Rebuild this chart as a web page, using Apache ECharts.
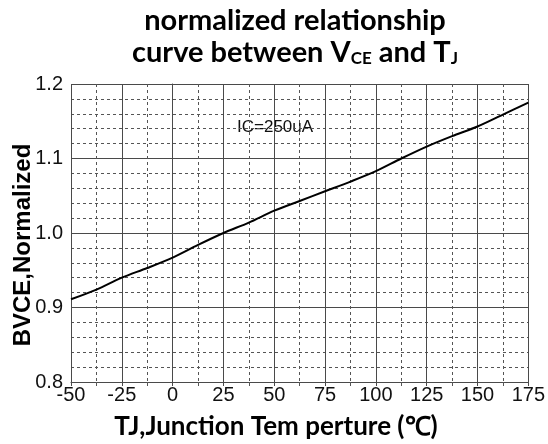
<!DOCTYPE html>
<html>
<head>
<meta charset="utf-8">
<script src="https://cdn.jsdelivr.net/npm/echarts@6/dist/echarts.min.js"></script>
<style>
html,body{margin:0;padding:0;background:#fff;}
#chart{width:548px;height:444px;}
</style>
</head>
<body>
<div id="chart"></div>
<script>
const temps = [-50, -37.5, -25, -12.5, 0, 12.5, 25, 37.5, 50, 62.5, 75, 87.5, 100, 112.5, 125, 137.5, 150, 162.5, 175];
const bvceNorm = [0.911, 0.924, 0.940, 0.953, 0.967, 0.984, 1.000, 1.014, 1.030, 1.043, 1.056, 1.069, 1.083, 1.100, 1.116, 1.130, 1.143, 1.159, 1.175];
const xTicks = [-50, -25, 0, 25, 50, 75, 100, 125, 150, 175];
const yTicks = [0.8, 0.9, 1.0, 1.1, 1.2];
const annotation = 'IC=250uA';
const titleLine1 = 'normalized relationship';
const xName = 'TJ,Junction Tem perture (\u2103)';
const yName = 'BVCE,Normalized';

const chart = echarts.init(document.getElementById('chart'), null, {renderer: 'canvas'});
const gridSolid = {color: '#4a4a4a', width: 1};
const gridDash = {color: '#555', width: 1, type: [3, 3]};

chart.setOption({
  animation: false,
  backgroundColor: '#fff',
  grid: {left: 71, right: 11, top: 84, bottom: 62},
  xAxis: {
    type: 'value', min: xTicks[0], max: xTicks[xTicks.length - 1], interval: 25,
    axisLine: {show: true, lineStyle: gridSolid},
    axisTick: {show: true, length: 4, lineStyle: gridSolid},
    minorTick: {show: true, splitNumber: 2, length: 4, lineStyle: {color: '#555'}},
    axisLabel: {color: '#111', fontSize: 20, fontFamily: 'Liberation Sans', margin: 3},
    splitLine: {show: true, lineStyle: gridSolid},
    minorSplitLine: {show: true, lineStyle: gridDash}
  },
  yAxis: {
    type: 'value', min: yTicks[0], max: yTicks[yTicks.length - 1], interval: 0.1,
    axisLine: {show: true, lineStyle: gridSolid},
    axisTick: {show: false},
    axisLabel: {color: '#111', fontSize: 20, fontFamily: 'Liberation Sans', margin: 8,
      formatter: v => v.toFixed(1)},
    splitLine: {show: true, lineStyle: gridSolid},
    minorSplitLine: {show: true, lineStyle: gridDash},
    minorTick: {show: false, splitNumber: 5}
  },
  series: [{
    type: 'line',
    data: temps.map((t, i) => [t, bvceNorm[i]]),
    showSymbol: false,
    smooth: 0.3,
    lineStyle: {color: '#000', width: 2}
  }],
  graphic: [
    {
      type: 'text', x: 295, y: 3,
      style: {
        text: '{a|' + titleLine1 + '}\n{a|curve between V}{s|CE}{a| and T}{s|J}',
        textAlign: 'center',
        rich: {
          a: {fontFamily: 'Lato', fontWeight: 'bold', fontSize: 29, lineHeight: 32, fill: '#000', verticalAlign: 'bottom'},
          s: {fontFamily: 'Lato', fontWeight: 'bold', fontSize: 17, lineHeight: 32, fill: '#000', verticalAlign: 'bottom'}
        }
      }
    },
    {
      type: 'text', x: 276, y: 427,
      style: {text: xName, textAlign: 'center', textVerticalAlign: 'middle',
        fontFamily: 'Lato', fontWeight: 'bold', fontSize: 26, fill: '#000'}
    },
    {
      type: 'text', x: 23, y: 245, rotation: Math.PI / 2,
      style: {text: yName, textAlign: 'center', textVerticalAlign: 'middle',
        fontFamily: 'Liberation Sans', fontWeight: 'bold', fontSize: 24, fill: '#000'}
    },
    {
      type: 'text', x: 235, y: 127,
      style: {text: annotation, textAlign: 'left', textVerticalAlign: 'middle',
        fontFamily: 'Liberation Sans', fontSize: 17, fill: '#111',
        backgroundColor: '#fff', padding: [1, 2]}
    }
  ]
});
</script>
</body>
</html>
